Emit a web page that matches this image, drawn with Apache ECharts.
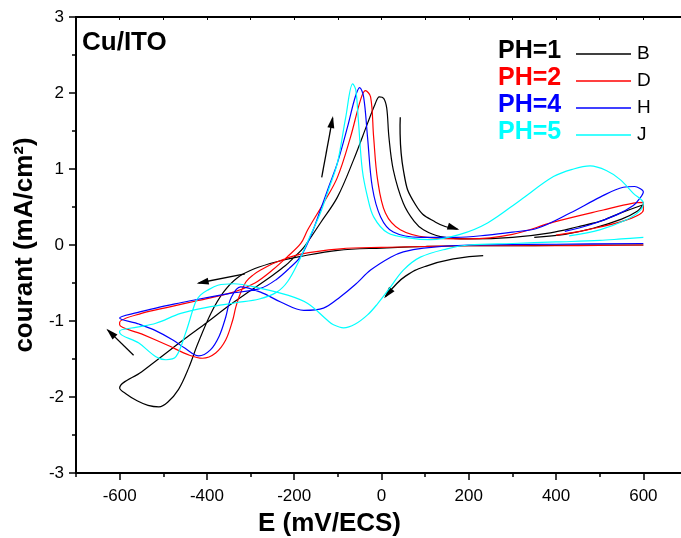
<!DOCTYPE html>
<html><head><meta charset="utf-8">
<script src="https://cdn.jsdelivr.net/npm/echarts@6/dist/echarts.min.js"></script>
<style>html,body{margin:0;padding:0;background:#fff}#c{width:681px;height:538px}</style>
</head><body><div id="c"></div><script>
// ---- data (E in mV/ECS, I in mA/cm2), scan order ----
const eB=[600,500,400,300,200,100,0,-100,-185,-240,-290,-330,-362,-391,-421,-442,-465,-490,-510,-535,-560,-585,-600,
 -550,-500,-450,-400,-350,-300,-250,-220,-200,-178,-140,-101,-64,-32,-15,-5,5,12,17,27,50,75,96,135,200,300,387,450,500,547,600,
 585,550,485,420,350];
const iB=[0,0,-0.005,-0.01,-0.01,-0.02,-0.04,-0.07,-0.15,-0.22,-0.31,-0.43,-0.62,-0.9,-1.3,-1.62,-1.9,-2.07,-2.13,-2.11,-2.05,-1.96,-1.88,
 -1.67,-1.45,-1.23,-1.02,-0.8,-0.6,-0.4,-0.27,-0.16,-0.03,0.29,0.63,1.12,1.6,1.85,1.95,1.93,1.8,1.42,0.99,0.55,0.31,0.2,0.11,0.08,0.1,0.16,0.24,0.31,0.42,0.53,
 0.44,0.34,0.22,0.14,0.1];
const eD=[600,500,400,300,200,100,0,-94,-185,-247,-277,-293,-310,-325,-334,-341,-357,-380,-410,-440,-490,-550,-600,
 -600,-550,-490,-420,-339,-290,-250,-215,-185,-169,-133,-101,-71,-48,-37,-25,-18,-9,9,43,105,200,300,394,508,577,600,
 600,562,471,400];
const iD=[0,-0.005,-0.01,-0.01,-0.01,-0.02,-0.03,-0.05,-0.12,-0.24,-0.33,-0.39,-0.48,-0.66,-0.82,-0.99,-1.25,-1.42,-1.49,-1.45,-1.32,-1.17,-1.05,
 -1.02,-0.9,-0.82,-0.73,-0.62,-0.5,-0.33,-0.15,0.02,0.2,0.55,0.89,1.42,1.91,2.03,1.95,1.42,0.86,0.42,0.2,0.1,0.08,0.14,0.3,0.46,0.55,0.56,
 0.46,0.33,0.2,0.13];
const eH=[600,400,200,96,50,21,-25,-60,-94,-133,-178,-231,-277,-323,-345,-357,-372,-392,-419,-450,-478,-520,-556,-600,
 -560,-517,-460,-426,-350,-277,-240,-210,-185,-160,-140,-120,-101,-78,-60,-50,-41,-32,-21,-2,27,89,170,243,300,357,432,501,554,580,593,600,
 590,577,540,480,420];
const iH=[0.02,0.01,0,-0.04,-0.09,-0.16,-0.33,-0.52,-0.68,-0.83,-0.86,-0.75,-0.62,-0.55,-0.7,-0.95,-1.2,-1.38,-1.46,-1.36,-1.25,-1.12,-1.04,-0.96,
 -0.89,-0.83,-0.76,-0.72,-0.64,-0.57,-0.45,-0.3,-0.15,0.15,0.46,0.78,1.08,1.55,1.95,2.07,1.95,1.42,0.76,0.37,0.17,0.1,0.1,0.13,0.17,0.22,0.42,0.63,0.76,0.77,0.74,0.7,
 0.6,0.52,0.4,0.27,0.18];
const eJ=[600,550,500,400,300,200,150,89,50,21,-10,-32,-60,-87,-110,-124,-169,-215,-277,-339,-375,-400,-415,-426,-449,-471,-494,-517,-556,-600,
 -600,-560,-517,-460,-400,-334,-280,-240,-215,-190,-165,-140,-120,-101,-82,-66,-59,-53,-44,-32,-18,14,66,112,180,243,318,394,440,478,515,547,577,600,
 590,560,500,430];
const iJ=[0.1,0.08,0.06,0.04,0.02,0,-0.05,-0.16,-0.33,-0.55,-0.78,-0.92,-1.04,-1.09,-1.05,-0.99,-0.77,-0.66,-0.57,-0.51,-0.53,-0.6,-0.66,-0.75,-1.16,-1.47,-1.51,-1.47,-1.29,-1.15,
 -1.13,-1.08,-1.03,-0.9,-0.82,-0.76,-0.71,-0.62,-0.48,-0.22,0.1,0.42,0.75,1.08,1.68,2.12,2.04,1.64,0.99,0.63,0.37,0.16,0.09,0.07,0.14,0.29,0.59,0.9,1.0,1.04,0.98,0.86,0.68,0.55,
 0.44,0.33,0.2,0.12];
const seriesNames=['B','D','H','J'];
const phLabels=['PH=1','PH=2','PH=4','PH=5'];
const colors=['#000000','#ff0000','#0000ff','#00ffff'];
const xMajorTicks=[-600,-400,-200,0,200,400,600];
const xMinorTicks=[-700,-500,-300,-100,100,300,500,700];
// annotation arrows (data coordinates)
const arrowUpE=[-137,-112], arrowUpI=[0.89,1.67];
const arrowRightE=[43,50,78,124,174], arrowRightI=[1.68,0.99,0.53,0.30,0.21];
const arrowDownE=[233,169,101,55,25,9], arrowDownI=[-0.14,-0.18,-0.28,-0.41,-0.57,-0.68];
const arrowLeftE=[-313,-419], arrowLeftI=[-0.38,-0.5];
const arrowUpLeftE=[-568,-627], arrowUpLeftI=[-1.45,-1.12];

const pairs=(e,i)=>e.map((v,k)=>[v,i[k]]);
const allData=[pairs(eB,iB),pairs(eD,iD),pairs(eH,iH),pairs(eJ,iJ)];

const chart=echarts.init(document.getElementById('c'),null,{renderer:'canvas'});
const FONT='Liberation Sans, Arial, sans-serif';
const option={
 animation:false,
 backgroundColor:'#fff',
 grid:{left:76,top:17,width:611,bottom:65,containLabel:false,outerBoundsMode:'none'},
 xAxis:[
  {type:'value',min:-700,max:700,interval:100,position:'bottom',
   name:'E (mV/ECS)',nameLocation:'middle',nameGap:38,
   nameTextStyle:{fontFamily:FONT,fontWeight:'bold',fontSize:26,color:'#000',padding:[0,104,0,0]},
   axisLine:{onZero:false,lineStyle:{color:'#000',width:2}},
   axisTick:{show:true,length:7,lineStyle:{color:'#000',width:1.5},customValues:xMajorTicks},
   axisLabel:{fontFamily:FONT,fontSize:17,color:'#000',margin:15,customValues:xMajorTicks},
   splitLine:{show:false}},
  {type:'value',min:-700,max:700,interval:100,position:'bottom',
   axisLine:{show:false,onZero:false},
   axisTick:{show:true,length:4,lineStyle:{color:'#000',width:1.5},customValues:xMinorTicks},
   axisLabel:{show:false},splitLine:{show:false}},
  {type:'value',min:-700,max:700,interval:100,position:'top',
   axisLine:{onZero:false,lineStyle:{color:'#000',width:2}},
   axisTick:{show:true,inside:true,length:3,lineStyle:{color:'#000',width:1}},
   axisLabel:{show:false},splitLine:{show:false}}
 ],
 yAxis:[{type:'value',min:-3,max:3,interval:1,
   name:'courant (mA/cm²)',nameLocation:'middle',nameGap:32,
   nameTextStyle:{fontFamily:FONT,fontWeight:'bold',fontSize:26,color:'#000'},
   axisLine:{onZero:false,lineStyle:{color:'#000',width:2}},
   axisTick:{show:true,length:7,lineStyle:{color:'#000',width:1.5}},
   minorTick:{show:true,splitNumber:2,length:4,lineStyle:{color:'#000',width:1.5}},
   axisLabel:{fontFamily:FONT,fontSize:17,color:'#000',margin:12},
   splitLine:{show:false},minorSplitLine:{show:false}}],
 legend:{orient:'vertical',left:576,top:44,padding:0,itemWidth:55,itemHeight:1.3,itemGap:7,icon:'rect',
   textStyle:{fontFamily:FONT,fontSize:19,color:'#000',lineHeight:20,padding:[0,0,0,1]},
   data:seriesNames},
 series:seriesNames.map((n,k)=>({name:n,type:'line',xAxisIndex:0,yAxisIndex:0,
   data:allData[k],symbol:'none',smooth:0.35,clip:true,
   lineStyle:{color:colors[k],width:1.2},itemStyle:{color:colors[k]}})),
 graphic:[]
};
chart.setOption(option);

// text annotations
const g=[];
g.push({type:'text',x:82,y:43,style:{text:'Cu/ITO',font:'bold 26px '+FONT,fill:'#000',verticalAlign:'middle'}});
const phY=[51,78,105,132];
phLabels.forEach((t,k)=>g.push({type:'text',x:498,y:phY[k],style:{text:t,font:'bold 25px '+FONT,fill:colors[k],verticalAlign:'middle'}}));
// arrows
function arrow(es,is,smooth){
 const pts=es.map((e,k)=>chart.convertToPixel({xAxisIndex:0,yAxisIndex:0},[e,is[k]]));
 g.push({type:'polyline',shape:{points:pts,smooth:smooth?0.5:0},style:{stroke:'#000',lineWidth:1.3,fill:null}});
 const a=pts[pts.length-1], b=pts[pts.length-2];
 const dx=a[0]-b[0], dy=a[1]-b[1], L=Math.hypot(dx,dy), ux=dx/L, uy=dy/L;
 const len=10, hw=3.5;
 const bx=a[0]-ux*len, by=a[1]-uy*len;
 g.push({type:'polygon',shape:{points:[[a[0]+ux*2,a[1]+uy*2],[bx-uy*hw,by+ux*hw],[bx+uy*hw,by-ux*hw]]},style:{fill:'#000'}});
}
arrow(arrowUpE,arrowUpI,false);
arrow(arrowRightE,arrowRightI,true);
arrow(arrowDownE,arrowDownI,true);
arrow(arrowLeftE,arrowLeftI,false);
arrow(arrowUpLeftE,arrowUpLeftI,false);
chart.setOption({graphic:g});
</script></body></html>
